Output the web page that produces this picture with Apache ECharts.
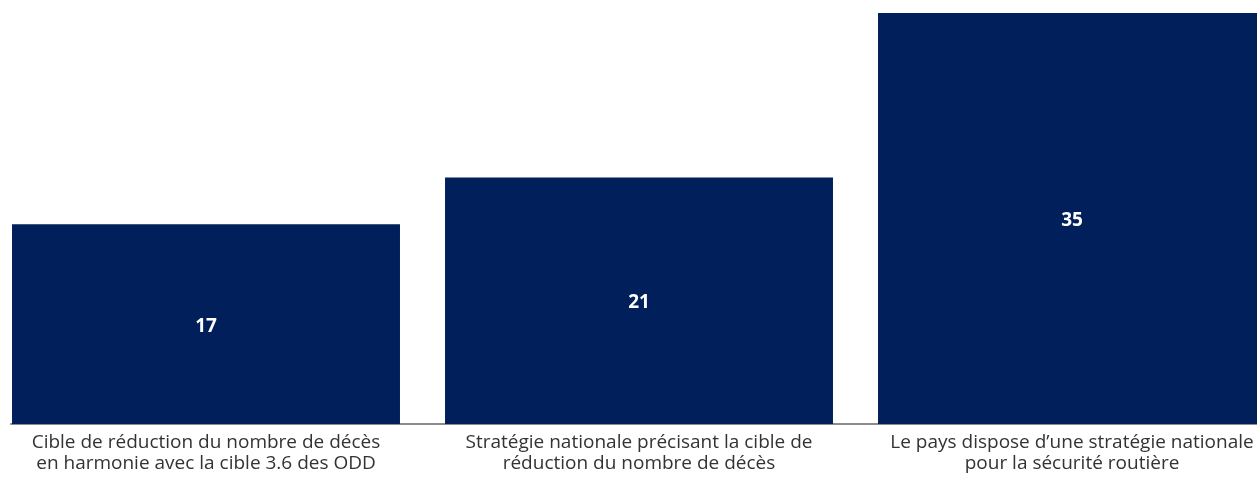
<!DOCTYPE html>
<html>
<head>
<meta charset="utf-8">
<script src="https://cdn.jsdelivr.net/npm/echarts@6/dist/echarts.min.js"></script>
<style>
  html, body { margin: 0; padding: 0; background: #ffffff; }
  #chart { width: 1257px; height: 478px; }
</style>
</head>
<body>
<div id="chart"></div>
<script>
// Categories (two-line labels) and share of countries for each item
const categories = [
  "Cible de réduction du nombre de décès\nen harmonie avec la cible 3.6 des ODD",
  "Stratégie nationale précisant la cible de\nréduction du nombre de décès",
  "Le pays dispose d’une stratégie nationale\npour la sécurité routière"
];
const values = [17, 21, 35];

const BAR_COLOR = "#001f5b";
const FONT = "'Open Sans', 'Noto Sans', sans-serif";

const chart = echarts.init(document.getElementById("chart"), null, { renderer: "canvas" });

chart.setOption({
  animation: false,
  grid: [
    // plot area for the bars (runs past the right edge)
    { left: -10.5, width: 1299, top: 13, bottom: 54, containLabel: false, outerBoundsMode: "none" },
    // baseline only
    { left: 11, right: 0, top: 13, bottom: 54, containLabel: false, outerBoundsMode: "none" }
  ],
  xAxis: [
    {
      type: "category",
      gridIndex: 0,
      data: categories,
      axisLine: { show: false },
      axisTick: { show: false },
      axisLabel: {
        interval: 0,
        margin: 8,
        color: "#333333",
        fontFamily: FONT,
        fontSize: 19,
        lineHeight: 21
      }
    },
    {
      type: "category",
      gridIndex: 1,
      data: categories,
      axisLine: { show: true, lineStyle: { color: "#8c8c8c", width: 2 } },
      axisTick: { show: false },
      axisLabel: { show: false }
    }
  ],
  yAxis: [
    { type: "value", gridIndex: 0, min: 0, max: 35, show: false },
    { type: "value", gridIndex: 1, min: 0, max: 35, show: false }
  ],
  series: [
    {
      type: "bar",
      xAxisIndex: 0,
      yAxisIndex: 0,
      data: values,
      barCategoryGap: "10.4%",
      itemStyle: { color: BAR_COLOR },
      label: {
        show: true,
        position: "inside",
        offset: [0, 2],
        color: "#ffffff",
        fontFamily: FONT,
        fontWeight: "bold",
        fontSize: 19
      },
      z: 1
    }
  ]
});
</script>
</body>
</html>
